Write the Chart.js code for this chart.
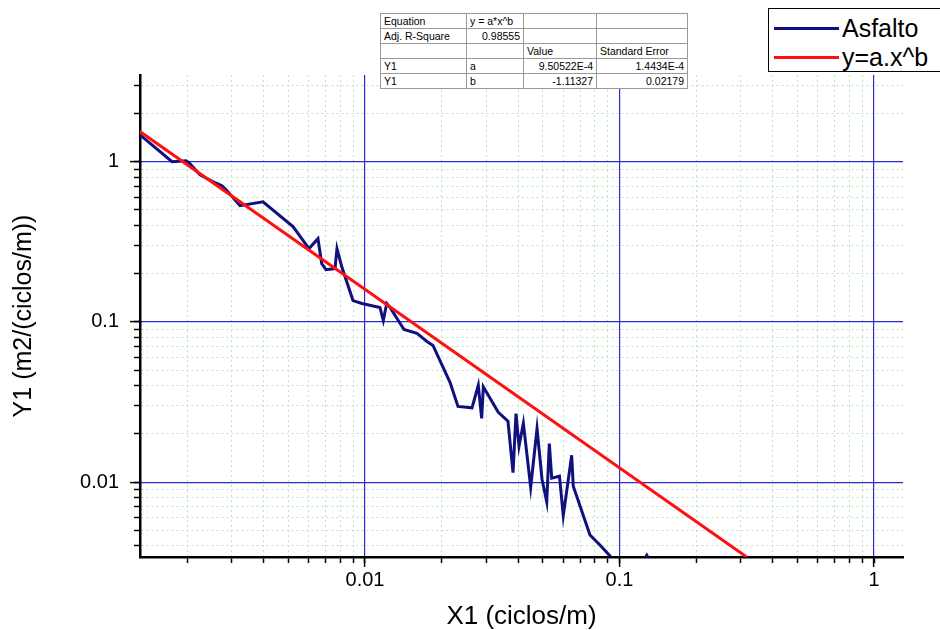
<!DOCTYPE html>
<html>
<head>
<meta charset="utf-8">
<script src="https://cdn.jsdelivr.net/npm/chart.js@4.4.0/dist/chart.umd.min.js"></script>
<style>
  html, body { margin: 0; padding: 0; background: #fff; }
  #wrap { position: relative; width: 940px; height: 630px; overflow: hidden; background: #fff; }
  #fitTable { position: absolute; left: 380px; top: 13px; border-collapse: collapse; table-layout: fixed;
    font: 10.5px "Liberation Sans", Arial, sans-serif; color: #000; background: #fff; }
  #fitTable td { border: 1px solid #9a9a9a; height: 14px; padding: 0 3px; white-space: nowrap; line-height: 14px; overflow: hidden; }
  #legend { position: absolute; left: 768px; top: 8px; width: 220px; height: 62px; border: 1.5px solid #000; background: #fff;
    font: 25px "Liberation Sans", Arial, sans-serif; color: #000; }
  #legend .row { position: absolute; left: 0; height: 30px; }
  #legend .sw { position: absolute; left: 5px; width: 65px; height: 3px; }
  #legend .tx { position: absolute; left: 73px; white-space: nowrap; line-height: 30px; top: 0; }
</style>
</head>
<body>
<div id="wrap">
  <canvas id="chart" width="940" height="630"></canvas>
  <table id="fitTable"></table>
  <div id="legend"></div>
</div>
<script>
// Asfalto PSD curve
const asfaltoX = [0.001306, 0.001745, 0.001981, 0.002034, 0.002248, 0.002575, 0.002742, 0.00287, 0.003228, 0.003974,
  0.005213, 0.006026, 0.006534, 0.006761, 0.007027, 0.007625, 0.007762, 0.008122, 0.008972, 0.009732,
  0.01145, 0.0118, 0.01217, 0.01254, 0.01423, 0.01601, 0.01752, 0.0185, 0.02158, 0.02319,
  0.02633, 0.02787, 0.02874, 0.02917, 0.0334, 0.03646, 0.03816, 0.03921, 0.04029, 0.0419,
  0.04477, 0.04742, 0.04961, 0.05177, 0.053, 0.05416, 0.05809, 0.06012, 0.06488, 0.06582,
  0.07656, 0.08379, 0.09259, 0.1051, 0.128, 0.151];
const asfaltoY = [1.473, 1.0, 1.014, 0.986, 0.83, 0.74, 0.709, 0.66, 0.532, 0.563,
  0.394, 0.287, 0.331, 0.231, 0.212, 0.2155, 0.287, 0.2186, 0.136, 0.1303,
  0.1231, 0.1021, 0.1303, 0.1231, 0.0898, 0.0848, 0.0756, 0.0714, 0.042, 0.0297,
  0.0291, 0.0402, 0.025, 0.0394, 0.0273, 0.024, 0.01146, 0.0268, 0.01676, 0.0233,
  0.00931, 0.0216, 0.01043, 0.00754, 0.0174, 0.01059, 0.01089, 0.00618, 0.01472, 0.00944,
  0.00468, 0.00405, 0.00341, 0.0021, 0.0035, 0.0021];

// fitted power law y = a*x^b, end points
const fitX = [0.0013, 0.317];
const fitY = [1.55, 0.0034];

const seriesNames = ['Asfalto', 'y=a.x^b'];
const seriesColors = ['#10107e', '#ff1010'];

const xMajorTicks = [0.01, 0.1, 1];
const xTickLabels = ['0.01', '0.1', '1'];
const yMajorTicks = [0.01, 0.1, 1];
const yTickLabels = ['0.01', '0.1', '1'];
const xRange = [0.001306, 1.3];
const yRange = [0.00341, 3.48];

const xTitle = 'X1 (ciclos/m)';
const yTitle = 'Y1 (m2/(ciclos/m))';

const tableRows = [
  ['Equation', 'y = a*x^b', '', ''],
  ['Adj. R-Square', '0.98555', '', ''],
  ['', '', 'Value', 'Standard Error'],
  ['Y1', 'a', '9.50522E-4', '1.4434E-4'],
  ['Y1', 'b', '-1.11327', '0.02179']
];
const tableColWidths = [86, 57, 73, 91];
const rightAligned = ['1,1', '3,2', '3,3', '4,2', '4,3'];

// table with the fit result
const tbl = document.getElementById('fitTable');
let html = '<colgroup>' + tableColWidths.map(w => '<col style="width:' + w + 'px">').join('') + '</colgroup>';
tableRows.forEach((r, i) => {
  html += '<tr>' + r.map((c, j) => '<td style="text-align:' + (rightAligned.includes(i + ',' + j) ? 'right' : 'left') + '">' + c + '</td>').join('') + '</tr>';
});
tbl.innerHTML = html;

// legend box
const leg = document.getElementById('legend');
seriesNames.forEach((n, i) => {
  const row = document.createElement('div');
  row.className = 'row';
  row.style.top = (4 + i * 29) + 'px';
  row.innerHTML = '<div class="sw" style="top:14px;background:' + seriesColors[i] + '"></div><div class="tx">' + n + '</div>';
  leg.appendChild(row);
});

const near = (a, b) => Math.abs(a / b - 1) < 1e-6;
const isMajor = (list, v) => list.some(m => near(v, m));
function isNice(v) {
  const e = Math.floor(Math.log10(v) + 1e-9);
  const s = v / Math.pow(10, e);
  return Math.abs(s - Math.round(s)) < 1e-6;
}

const minorGrid = '#bfe2bf';
const majorGrid = '#2b2bd2';

function mainAxis(axis, majors, labels, range) {
  return {
    type: 'logarithmic',
    position: axis === 'x' ? 'bottom' : 'left',
    axis: axis,
    weight: 1,
    min: range[0],
    max: range[1],
    afterBuildTicks: s => { s.ticks = s.ticks.filter(t => isNice(t.value)); },
    afterFit: s => { if (axis === 'x') s.height = 73; else s.width = 140; },
    grid: {
      color: c => (c.tick && isMajor(majors, c.tick.value)) ? 'rgba(0,0,0,0)' : minorGrid,
      lineWidth: 1,
      tickLength: 6,
      tickColor: '#000',
      tickWidth: 1.5,
      tickBorderDash: []
    },
    border: { display: true, color: '#000', width: 2.5, dash: [2, 3] },
    ticks: {
      autoSkip: false,
      maxRotation: 0,
      padding: axis === 'x' ? 5 : 15,
      color: '#000',
      font: { family: '"Liberation Sans", Arial, sans-serif', size: 20 },
      callback: v => { const k = majors.findIndex(m => near(v, m)); return k >= 0 ? labels[k] : ''; }
    },
    title: {
      display: true,
      text: axis === 'x' ? xTitle : yTitle,
      color: '#000',
      font: { family: '"Liberation Sans", Arial, sans-serif', size: axis === 'x' ? 26 : 25, lineHeight: 1 },
      padding: axis === 'x' ? { top: 0, bottom: 0 } : { top: 12, bottom: 0 }
    }
  };
}

function majorAxis(axis, majors, range) {
  return {
    type: 'logarithmic',
    position: axis === 'x' ? 'bottom' : 'left',
    axis: axis,
    weight: 0,
    min: range[0],
    max: range[1],
    afterBuildTicks: s => { s.ticks = s.ticks.filter(t => isMajor(majors, t.value)); },
    afterFit: s => { if (axis === 'x') s.height = 0; else s.width = 0; },
    grid: { color: majorGrid, lineWidth: 1.2, tickLength: 10, tickColor: '#000', tickWidth: 1.5, tickBorderDash: [] },
    border: { display: false },
    ticks: { display: false, autoSkip: false }
  };
}

new Chart(document.getElementById('chart'), {
  type: 'line',
  data: {
    datasets: [
      {
        label: seriesNames[0],
        data: asfaltoX.map((x, i) => ({ x: x, y: asfaltoY[i] })),
        borderColor: seriesColors[0],
        borderWidth: 3,
        pointRadius: 0,
        tension: 0,
        order: 1,
        xAxisID: 'x',
        yAxisID: 'y'
      },
      {
        label: seriesNames[1],
        data: fitX.map((x, i) => ({ x: x, y: fitY[i] })),
        borderColor: seriesColors[1],
        borderWidth: 3,
        pointRadius: 0,
        tension: 0,
        order: 0,
        xAxisID: 'x',
        yAxisID: 'y'
      }
    ]
  },
  options: {
    responsive: false,
    devicePixelRatio: 1,
    animation: false,
    layout: { padding: { top: 75, right: 37, bottom: 0, left: 0 } },
    plugins: { legend: { display: false }, tooltip: { enabled: false } },
    scales: {
      x: mainAxis('x', xMajorTicks, xTickLabels, xRange),
      y: mainAxis('y', yMajorTicks, yTickLabels, yRange),
      x2: majorAxis('x', xMajorTicks, xRange),
      y2: majorAxis('y', yMajorTicks, yRange)
    }
  }
});
</script>
</body>
</html>
